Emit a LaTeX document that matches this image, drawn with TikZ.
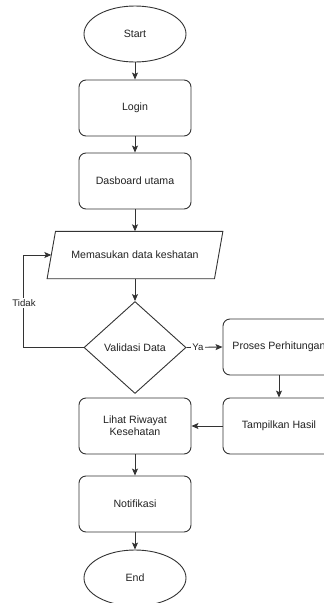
\documentclass[tikz,border=0pt]{standalone}
\usepackage{fontspec}
\setmainfont{Liberation Sans}
\usetikzlibrary{shapes.geometric,arrows.meta}
\definecolor{ln}{HTML}{333333}
\definecolor{tx}{HTML}{222222}
\begin{document}
\begin{tikzpicture}[x=1pt,y=-1pt,
  every node/.style={font=\fontsize{10.6}{13}\selectfont, text=tx},
  base/.style={draw=ln, line width=0.9pt, inner sep=0pt, fill=white},
  term/.style={base, ellipse, minimum width=102pt, minimum height=56pt},
  proc/.style={base, rectangle, rounded corners=7pt, minimum width=112pt, minimum height=56pt, align=center},
  dec/.style={base, diamond, minimum width=102pt, minimum height=92pt},
  arr/.style={draw=ln, line width=0.9pt, -{Stealth[length=7pt,width=6pt,inset=1.5pt]}},
  lbl/.style={fill=white, inner sep=1pt, font=\fontsize{9.6}{11}\selectfont}]
\useasboundingbox (0,0) rectangle (324,603);
\node[term] (start) at (135,34) {Start};
\node[proc] (login) at (135,108) {Login};
\node[proc] (dash) at (135,181) {Dasboard utama};
\node[inner sep=0pt, minimum width=167pt, minimum height=47pt] (input) at (135,255) {};
\draw[ln, line width=0.9pt, fill=white]
  ([xshift=4.2pt]input.north west) -- ([xshift=4.2pt]input.north east)
  -- ([xshift=-4.2pt]input.south east) -- ([xshift=-4.2pt]input.south west) -- cycle;
\node at (input.center) {Memasukan data keshatan};
\node[dec] (valid) at (135,347.5) {Validasi Data};
\node[proc] (proses) at (279,347) {Proses Perhitungan};
\node[proc] (tampil) at (279,426) {Tampilkan Hasil};
\node[proc] (lihat) at (135,426) {Lihat Riwayat\\[-1pt]Kesehatan};
\node[proc] (notif) at (135,504) {Notifikasi};
\node[term] (end) at (135,578) {End};

\draw[arr] (start) -- (login);
\draw[arr] (login) -- (dash);
\draw[arr] (dash) -- (input);
\draw[arr] (input) -- (valid);
\draw[arr] (valid.west) -| ([xshift=-27.5pt]input.west) -- (input.west);
\node[lbl] (tidak) at (24,303) {Tidak};
\draw[arr] (valid.east) -- node[lbl, pos=0.32] (ya) {Ya} (proses.west);
\draw[arr] (proses) -- (tampil);
\draw[arr] (tampil) -- (lihat);
\draw[arr] (lihat) -- (notif);
\draw[arr] (notif) -- (end);
\end{tikzpicture}
\end{document}
